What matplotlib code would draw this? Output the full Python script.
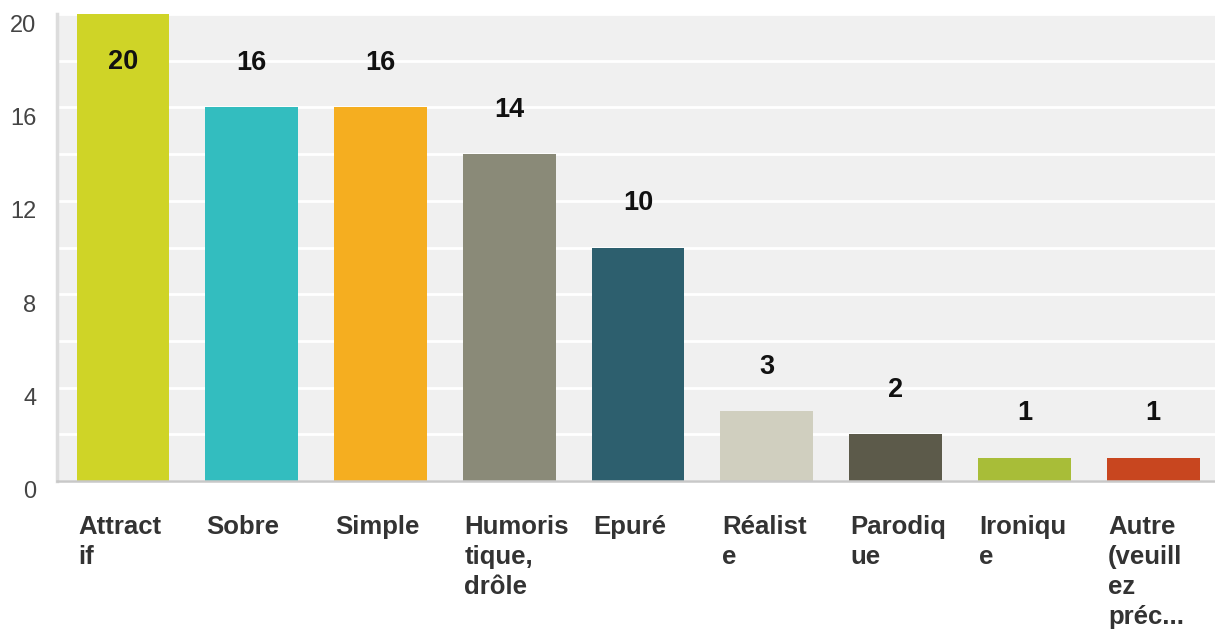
#!/usr/bin/env python3
"""Bar chart of survey answers (styles de visuel)."""

import matplotlib

matplotlib.use("Agg")
import matplotlib.pyplot as plt
from matplotlib.transforms import ScaledTranslation

plt.rcParams["font.family"] = ["Liberation Sans", "DejaVu Sans"]

CATEGORIES = [
    "Attract\nif",
    "Sobre",
    "Simple",
    "Humoris\ntique,\ndrôle",
    "Epuré",
    "Réalist\ne",
    "Parodiq\nue",
    "Ironiqu\ne",
    "Autre\n(veuill\nez\npréc...",
]
COUNTS = [20, 16, 16, 14, 10, 3, 2, 1, 1]
COLORS = [
    "#cfd427",
    "#33bdbf",
    "#f5ae20",
    "#8a8a78",
    "#2d5f6e",
    "#d0cfbf",
    "#5c5a4a",
    "#a8bd38",
    "#c8461f",
]
Y_TICKS = [0, 4, 8, 12, 16, 20]


def main() -> None:
    fig = plt.figure(figsize=(12.15, 6.3), dpi=100)
    ax = fig.add_axes((57 / 1215, 1 - 481 / 630, 1 - 57 / 1215, (481 - 14) / 630))
    ax.set_facecolor("#f0f0f0")

    xs = list(range(len(COUNTS)))
    width = 0.72
    ax.bar(xs, COUNTS, width=width, color=COLORS, zorder=3)

    ax.set_xlim(-0.512, 8.48)
    ax.set_ylim(0, 20)

    # value labels above each bar, kept inside the plot when the bar is clipped
    for x, value in zip(xs, COUNTS):
        ax.text(
            x,
            min(value + 1.9, 17.95),
            str(value),
            ha="center",
            va="center",
            fontsize=19.5,
            fontweight="bold",
            color="#111111",
            zorder=4,
        )

    # category labels, left aligned under each bar
    for x, label in zip(xs, CATEGORIES):
        ax.text(
            x - width / 2 + 0.01,
            -1.45,
            label,
            ha="left",
            va="top",
            fontsize=18.5,
            fontweight="bold",
            color="#333333",
            linespacing=1.31,
            clip_on=False,
        )

    ax.set_yticks(Y_TICKS)
    ax.set_yticks(range(2, 21, 4), minor=True)
    ax.set_xticks([])
    ax.grid(True, axis="y", which="both", color="white", linewidth=2, zorder=1)
    ax.tick_params(axis="y", which="both", length=0, pad=15, labelsize=17, labelcolor="#444444")
    offset = ScaledTranslation(0, -0.09, fig.dpi_scale_trans)
    for label in ax.get_yticklabels():
        label.set_transform(label.get_transform() + offset)

    for side in ("top", "right"):
        ax.spines[side].set_visible(False)
    ax.spines["left"].set_color("#dcdcdc")
    ax.spines["left"].set_linewidth(2.5)
    ax.spines["bottom"].set_color("#c8c8c8")
    ax.spines["bottom"].set_linewidth(1.8)
    ax.spines["bottom"].set_zorder(5)

    fig.savefig("out.png", dpi=100)
    plt.close(fig)


if __name__ == "__main__":
    main()
